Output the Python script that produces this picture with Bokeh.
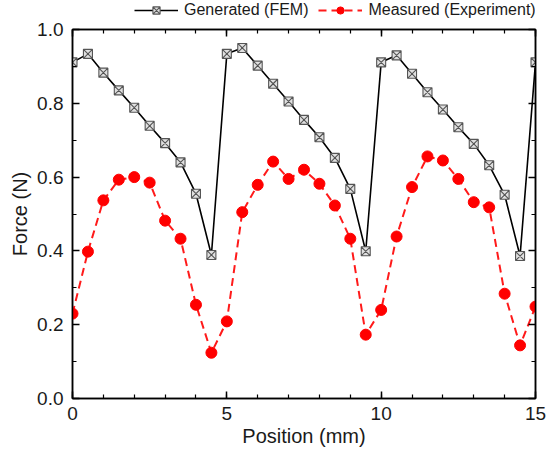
from bokeh.plotting import figure
from bokeh.layouts import column
from bokeh.models import (LinearAxis, SingleIntervalTicker, PrintfTickFormatter,
                          Range1d, Legend, LegendItem, CustomJSTickFormatter)
from bokeh.embed import file_html
from bokeh.resources import INLINE

position = [0.0, 0.5, 1.0, 1.5, 2.0, 2.5, 3.0, 3.5, 4.0, 4.5, 5.0, 5.5, 6.0, 6.5, 7.0, 7.5,
            8.0, 8.5, 9.0, 9.5, 10.0, 10.5, 11.0, 11.5, 12.0, 12.5, 13.0, 13.5, 14.0, 14.5, 15.0]
generated = [0.911, 0.934, 0.883, 0.835, 0.788, 0.739, 0.692, 0.640, 0.555, 0.389,
             0.934, 0.950, 0.902, 0.853, 0.805, 0.755, 0.708, 0.652, 0.568, 0.399,
             0.911, 0.930, 0.880, 0.830, 0.783, 0.735, 0.690, 0.632, 0.552, 0.386, 0.911]
measured = [0.230, 0.398, 0.537, 0.593, 0.600, 0.585, 0.482, 0.433, 0.254, 0.124,
            0.209, 0.505, 0.579, 0.642, 0.595, 0.620, 0.582, 0.523, 0.433, 0.173,
            0.240, 0.439, 0.573, 0.656, 0.645, 0.595, 0.532, 0.518, 0.284, 0.144, 0.249]
series_names = ["Generated (FEM)", "Measured (Experiment)"]
x_label = "Position (mm)"
y_label = "Force (N)"

FONT = "Liberation Sans"
FEM_LINE = dict(line_color="black", line_width=1.6)
FEM_MARK = dict(marker="square_x", size=9, fill_color="#e0e0e0", line_color="#555555", line_width=1.1)
EXP_LINE = dict(line_color="#ff1a1a", line_width=2, line_dash="8 5")
EXP_MARK = dict(marker="circle", size=11, fill_color="#ff0000", line_color="#ff0000")

# ---- legend strip (above the plot) ----
lf = figure(width=547, height=19, output_backend="svg", toolbar_location=None,
            x_axis_type=None, y_axis_type=None, x_range=Range1d(0, 15), y_range=Range1d(0, 1),
            min_border_left=72, min_border_right=12, min_border_top=0, min_border_bottom=0)
lf.outline_line_color = None
lf.xgrid.visible = False
lf.ygrid.visible = False
ll1 = lf.line(position, generated, visible=False, **FEM_LINE)
ls1 = lf.scatter(position, generated, visible=False, **FEM_MARK)
ll2 = lf.line(position, measured, visible=False, **EXP_LINE)
ls2 = lf.scatter(position, measured, visible=False, **EXP_MARK)
legend = Legend(items=[LegendItem(label=series_names[0], renderers=[ll1, ls1]),
                       LegendItem(label=series_names[1], renderers=[ll2, ls2])],
                orientation="horizontal", location=(62, 0),
                glyph_width=44, glyph_height=18, label_standoff=6, spacing=10,
                padding=0, margin=0, border_line_alpha=0, background_fill_alpha=0,
                label_text_font=FONT, label_text_font_size="16px",
                label_text_color="#1a1a1a")
lf.add_layout(legend, "center")

# ---- main plot ----
p = figure(width=547, height=438, output_backend="svg", toolbar_location=None,
           x_range=Range1d(0, 15), y_range=Range1d(0, 1.0),
           min_border_left=72, min_border_right=12, min_border_top=10, min_border_bottom=59)
p.xgrid.visible = False
p.ygrid.visible = False
p.outline_line_color = "black"
p.outline_line_width = 1.5
p.background_fill_color = "white"
p.border_fill_color = "white"

def style(ax):
    ax.major_tick_in = 7
    ax.major_tick_out = 0
    ax.minor_tick_in = 4
    ax.minor_tick_out = 0
    ax.axis_line_width = 1.5
    ax.major_tick_line_width = 1.5
    ax.minor_tick_line_width = 1.2
    ax.axis_line_color = "black"
    ax.major_tick_line_color = "black"
    ax.minor_tick_line_color = "black"
    ax.major_label_text_font = FONT
    ax.major_label_text_font_size = "19px"
    ax.major_label_text_color = "#1a1a1a"
    ax.axis_label_text_font = FONT
    ax.axis_label_text_font_size = "20px"
    ax.axis_label_text_font_style = "normal"
    ax.axis_label_text_color = "#1a1a1a"

xa = p.xaxis[0]
xa.ticker = SingleIntervalTicker(interval=5, num_minor_ticks=5)
xa.axis_label = x_label
xa.major_label_standoff = 8
xa.axis_label_standoff = 2
style(xa)

ya = p.yaxis[0]
ya.ticker = SingleIntervalTicker(interval=0.2, num_minor_ticks=2)
ya.formatter = PrintfTickFormatter(format="%.1f")
ya.axis_label = y_label
ya.major_label_standoff = 9
ya.axis_label_standoff = 3
style(ya)

blank = CustomJSTickFormatter(code="return ''")
top = LinearAxis(ticker=SingleIntervalTicker(interval=5, num_minor_ticks=5), formatter=blank)
style(top)
top.major_label_standoff = 0
top.major_label_text_font_size = "1px"
p.add_layout(top, "above")
right = LinearAxis(ticker=SingleIntervalTicker(interval=0.2, num_minor_ticks=2), formatter=blank)
style(right)
right.major_label_standoff = 0
right.major_label_text_font_size = "1px"
p.add_layout(right, "right")

p.line(position, generated, **FEM_LINE)
p.scatter(position, generated, **FEM_MARK)
p.line(position, measured, **EXP_LINE)
p.scatter(position, measured, **EXP_MARK)

layout = column(lf, p, spacing=0)
open("out.html", "w").write(file_html(layout, INLINE))
